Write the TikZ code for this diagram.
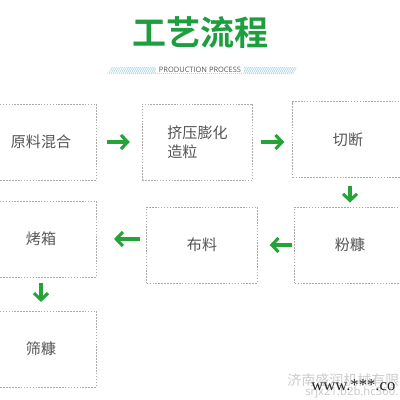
\documentclass[tikz,border=0pt]{standalone}
\usepackage{fontspec}
\setmainfont{Liberation Serif}
\newfontfamily\cjk{Noto Sans CJK SC}
\newfontfamily\cjkbold{Noto Sans CJK SC Bold}
\newfontfamily\latin{Open Sans}
\usetikzlibrary{arrows.meta}
\definecolor{titlegreen}{HTML}{1E9E3E}
\definecolor{arrowgreen}{HTML}{24A336}
\definecolor{boxgray}{HTML}{AAAAAA}
\definecolor{textgray}{HTML}{555555}
\definecolor{hatchblue}{HTML}{A9D7E6}
\tikzset{
  stepbox/.style={draw=boxgray, line width=0.6pt, dash pattern=on 1.2pt off 1pt,
    minimum width=83pt, minimum height=57pt, inner sep=0pt,
    font=\cjk\fontsize{11.3}{14.5}\selectfont, text=textgray},
  flow/.style={draw=arrowgreen, line width=2.3pt,
    -{Straight Barb[length=5pt,width=10.5pt]}},
}
\begin{document}
\begin{tikzpicture}[x=0.75pt,y=-0.75pt]
\useasboundingbox (0,0) rectangle (400,400);
\clip (0,0) rectangle (400,400);
\fill[white] (0,0) rectangle (400,400);
% title
\node (title) at (200,33) {\cjkbold\fontsize{25.5}{28}\selectfont\color{titlegreen}工艺流程};
% hatched band
\begin{scope}
\clip (111,67) -- (297,67) -- (293,74) -- (107,74) -- cycle;
\foreach \i in {0,...,100} {
  \draw[hatchblue, line width=0.5pt] (100+2*\i,76) -- (106+2*\i,64);
}
\end{scope}
\node[fill=white, inner xsep=2pt, inner ysep=0.5pt] (sub) at (200,69.5)
  {\latin\fontsize{5.6}{6}\selectfont\color{textgray}PRODUCTION PROCESS};
% boxes
\node[stepbox] (b1) at (41,142) {原料混合};
\node[stepbox, align=left] (b2) at (197.5,142) {挤压膨化\\造粒};
\node[stepbox] (b3) at (348,139.5) {切断};
\node[stepbox] (b4) at (41,239) {烤箱};
\node[stepbox] (b5) at (202,245) {布料};
\node[stepbox] (b6) at (350,245) {粉糠};
\node[stepbox] (b7) at (41,349) {筛糠};
% arrows
\draw[flow, shorten <=7.5pt, shorten >=9pt] (b1.east) -- (b2.west);
\draw[flow, shorten <=6pt, shorten >=6pt] (b2.east) -- (b2.east -| b3.west);
\draw[flow, shorten <=6pt, shorten >=3pt] (b3.south -| b6.north) -- (b6.north);
\draw[flow, shorten <=1.5pt, shorten >=9pt] (b6.west) -- (b5.east);
\draw[flow, shorten <=5pt, shorten >=13pt] (b4.east -| b5.west) -- (b4.east);
\draw[flow, shorten <=4.5pt, shorten >=6.5pt] (b4.south) -- (b7.north);
% watermark
\node[anchor=west, inner sep=0pt] (wm1) at (287,380) {\cjk\fontsize{10.5}{12}\selectfont\color{black!20}济南盛润机械有限};
\node[anchor=west, inner sep=0pt] (wm2) at (305,393) {\latin\fontsize{8.5}{10}\selectfont\color{black!22}srjx21.b2b.hc360.};
\node[anchor=west, inner sep=0pt] (wm3) at (311,385) {\fontsize{12.5}{14}\selectfont\color{black!85}www.***.co};
\end{tikzpicture}
\end{document}
